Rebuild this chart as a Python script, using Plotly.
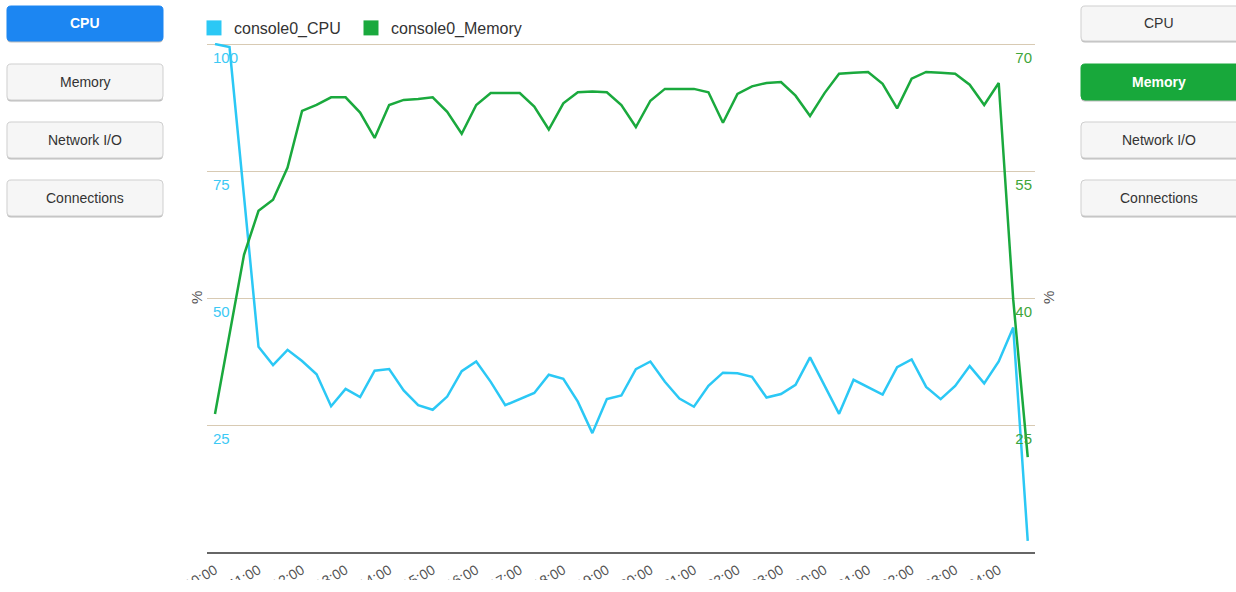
import plotly.graph_objects as go

# ---------------- data ----------------
times = ["10:00", "10:20", "10:40", "11:00", "11:20", "11:40", "12:00", "12:20", "12:40",
         "13:00", "13:20", "13:40", "14:00", "14:20", "14:40", "15:00", "15:20", "15:40",
         "16:00", "16:20", "16:40", "17:00", "17:20", "17:40", "18:00", "18:20", "18:40",
         "19:00", "19:20", "19:40", "20:00", "20:20", "20:40", "21:00", "21:20", "21:40",
         "22:00", "22:20", "22:40", "23:00", "23:20", "23:40", "00:00", "00:20", "00:40",
         "01:00", "01:20", "01:40", "02:00", "02:20", "02:40", "03:00", "03:20", "03:40",
         "04:00", "04:20", "04:40"]

cpu = [100.0, 99.4, 70.0, 40.4, 36.8, 39.8, 37.6, 35.0, 28.7, 32.1,
       30.5, 35.7, 36.0, 31.8, 28.9, 28.0, 30.6, 35.6, 37.5, 33.5,
       28.9, 30.1, 31.3, 34.9, 34.1, 29.6, 23.4, 30.1, 30.8, 36.0,
       37.5, 33.5, 30.2, 28.6, 32.7, 35.3, 35.2, 34.5, 30.4, 31.1,
       32.9, 38.3, 32.7, 27.2, 33.9, 32.5, 31.0, 36.4, 37.9, 32.5,
       30.1, 32.7, 36.6, 33.2, 37.5, 44.2, 2.2]

memory = [26.3, 35.6, 45.1, 50.3, 51.6, 55.4, 62.1, 62.8, 63.7, 63.7,
          61.9, 58.9, 62.8, 63.4, 63.5, 63.7, 62.0, 59.4, 62.8, 64.2,
          64.2, 64.2, 62.6, 59.9, 63.0, 64.3, 64.4, 64.3, 62.8, 60.2,
          63.3, 64.7, 64.7, 64.7, 64.3, 60.7, 64.1, 65.0, 65.4, 65.5,
          63.9, 61.5, 64.2, 66.5, 66.6, 66.7, 65.3, 62.4, 65.9, 66.7,
          66.6, 66.5, 65.2, 62.8, 65.4, 39.8, 21.2]

tick_step = 3
x_ticktext = times[::tick_step]

cpu_ticks = [25, 50, 75, 100]
mem_ticks = [25, 40, 55, 70]

series_names = ["console0_CPU", "console0_Memory"]
left_buttons = ["CPU", "Memory", "Network I/O", "Connections"]
right_buttons = ["CPU", "Memory", "Network I/O", "Connections"]

# ---------------- style ----------------
W, H = 1236, 580
ML, MR, MT, MB = 207, 201, 43, 28
PW, PH = W - ML - MR, H - MT - MB
CYAN = "#2bc8f5"
GREEN = "#1aa93d"
FONT = "Helvetica Neue, Helvetica, Arial, Liberation Sans, sans-serif"

x_pos = list(range(len(times)))          # sample positions along the time axis
x_tickvals = x_pos[::tick_step]


def px2paper(px, py):
    return (px - ML) / PW, (H - MB - py) / PH


def rounded_path(x0, y0, x1, y1, r=4):
    pts = [("M", x0 + r, y0), ("L", x1 - r, y0), ("Q", x1, y0, x1, y0 + r),
           ("L", x1, y1 - r), ("Q", x1, y1, x1 - r, y1), ("L", x0 + r, y1),
           ("Q", x0, y1, x0, y1 - r), ("L", x0, y0 + r), ("Q", x0, y0, x0 + r, y0)]
    out = []
    for p in pts:
        s = p[0]
        coords = p[1:]
        for i in range(0, len(coords), 2):
            a, b = px2paper(coords[i], coords[i + 1])
            s += f" {a:.5f},{b:.5f}"
        out.append(s)
    return " ".join(out) + " Z"


fig = go.Figure()

fig.add_trace(go.Scatter(x=x_pos, y=cpu, mode="lines", name=series_names[0],
                         customdata=times, hovertemplate="%{customdata}: %{y}%<extra></extra>",
                         line=dict(color=CYAN, width=2.5), yaxis="y", showlegend=False))
fig.add_trace(go.Scatter(x=x_pos, y=memory, mode="lines", name=series_names[1],
                         customdata=times, hovertemplate="%{customdata}: %{y}%<extra></extra>",
                         line=dict(color=GREEN, width=2.5), yaxis="y2", showlegend=False))
# legend swatches (square markers), one legend box per series
for nm, col, lg in zip(series_names, [CYAN, GREEN], ["legend", "legend2"]):
    fig.add_trace(go.Scatter(x=[None], y=[None], mode="markers", name=nm, legend=lg,
                             marker=dict(symbol="square", size=15, color=col)))

shapes = []
annotations = []
button_rows = [(6, 41), (64, 100), (122, 158), (180, 216)]
for side, labels, (bx0, bx1), active, acol in [
        ("l", left_buttons, (7, 163), 0, "#1c86f2"),
        ("r", right_buttons, (1081, 1240), 1, "#18a83b")]:
    for i, (lab, (y0, y1)) in enumerate(zip(labels, button_rows)):
        is_act = i == active
        shapes.append(dict(type="path", xref="paper", yref="paper",
                           path=rounded_path(bx0, y0 + 1, bx1, y1 + 1.5),
                           fillcolor="#bdbdbd", line=dict(width=0), layer="above"))
        shapes.append(dict(type="path", xref="paper", yref="paper",
                           path=rounded_path(bx0, y0, bx1, y1),
                           fillcolor=acol if is_act else "#f6f6f6",
                           line=dict(color=acol if is_act else "#cfcfcf", width=1),
                           layer="above"))
        cx, cy = px2paper(85 if side == "l" else 1159, (y0 + y1) / 2)
        annotations.append(dict(xref="paper", yref="paper", x=cx, y=cy,
                                text=(f"<b>{lab}</b>" if is_act else lab),
                                showarrow=False, xanchor="center", yanchor="middle",
                                font=dict(family=FONT, size=14,
                                          color="#ffffff" if is_act else "#333333")))

# axis titles
for px in (196, 1048):
    ax, ay = px2paper(px, 298)
    annotations.append(dict(xref="paper", yref="paper", x=ax, y=ay, text="%", textangle=-90,
                            showarrow=False, xanchor="center", yanchor="middle",
                            font=dict(family=FONT, size=15, color="#555555")))

legend_common = dict(orientation="h", xanchor="left", y=px2paper(0, 28)[1], yanchor="middle",
                     font=dict(family=FONT, size=16, color="#333333"), itemsizing="trace",
                     bgcolor="rgba(0,0,0,0)")

fig.update_layout(
    width=W, height=H,
    margin=dict(l=ML, r=MR, t=MT, b=MB, autoexpand=False),
    paper_bgcolor="white", plot_bgcolor="white",
    font=dict(family=FONT, color="#444444"),
    showlegend=True,
    legend=dict(x=px2paper(194, 0)[0], **legend_common),
    legend2=dict(x=px2paper(351, 0)[0], **legend_common),
    xaxis=dict(range=[-0.55, len(times) - 1 + 0.5],
               tickmode="array", tickvals=x_tickvals, ticktext=x_ticktext, tickangle=-30,
               ticklabeloverflow="allow",
               showgrid=False, showline=True, linecolor="#666666", linewidth=1.5,
               ticks="outside", ticklen=3, tickcolor="rgba(0,0,0,0)",
               tickfont=dict(family=FONT, size=14, color="#555555"),
               zeroline=False, automargin=False),
    yaxis=dict(range=[0, 100.2], tickmode="array", tickvals=cpu_ticks,
               ticklabelposition="inside bottom", ticklabelstandoff=3, ticklabelshift=3,
               ticklabeloverflow="allow",
               tickfont=dict(family=FONT, size=15, color="#3cc9f5"),
               showgrid=True, gridcolor="#d8cab3", gridwidth=1.2, zeroline=False, showline=False,
               ticks="", automargin=False),
    yaxis2=dict(range=[10, 70.12], tickmode="array", tickvals=mem_ticks, overlaying="y", side="right",
                ticklabelposition="inside bottom", ticklabelshift=3, ticklabeloverflow="allow",
                tickfont=dict(family=FONT, size=15, color="#3fa63a"),
                showgrid=False, zeroline=False, showline=False, ticks="", automargin=False),
    shapes=shapes,
    annotations=annotations,
)

fig.write_html("out.html", config={"displayModeBar": False},
               post_script="document.body.style.margin='0';document.body.style.overflow='hidden';")
